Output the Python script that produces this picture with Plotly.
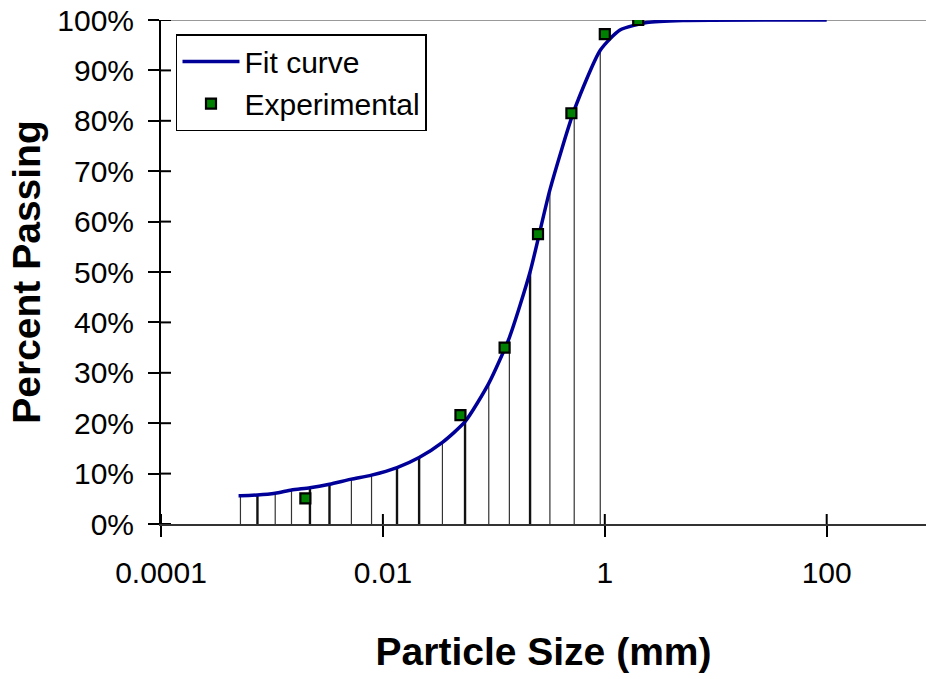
import plotly.graph_objects as go

# ---- data ----
fit_x = [5.0e-4, 5.2e-4, 7.4e-4, 1.07e-3, 1.5e-3, 2.2e-3, 3.3e-3, 5.2e-3, 7.9e-3,
         0.0134, 0.0212, 0.0344, 0.055, 0.090, 0.138, 0.212, 0.32, 0.53,
         0.91, 1.37, 2.39, 5.07, 100.0]
fit_y = [0.056, 0.056, 0.0575, 0.061, 0.0675, 0.072, 0.079, 0.089, 0.097,
         0.112, 0.132, 0.162, 0.203, 0.279, 0.37, 0.50, 0.663, 0.821,
         0.94, 0.98, 0.995, 0.999, 1.0]
drop_x = [5.2e-4, 7.4e-4, 1.07e-3, 1.5e-3, 2.2e-3, 3.3e-3, 5.2e-3, 7.9e-3,
          0.0134, 0.0212, 0.0344, 0.055, 0.090, 0.138, 0.212, 0.32, 0.53, 0.91]
drop_y = [0.056, 0.0575, 0.061, 0.0675, 0.072, 0.079, 0.089, 0.097,
          0.112, 0.132, 0.162, 0.203, 0.279, 0.37, 0.50, 0.663, 0.821, 0.94]
exp_x = [0.002, 0.05, 0.125, 0.25, 0.5, 1.0, 2.0]
exp_y = [0.051, 0.216, 0.35, 0.575, 0.815, 0.972, 1.0]
x_tickvals = [1e-4, 1e-2, 1, 100]
x_ticktext = ["0.0001", "0.01", "1", "100"]
y_tickvals = [0, 0.1, 0.2, 0.3, 0.4, 0.5, 0.6, 0.7, 0.8, 0.9, 1.0]

# styling: which drop lines are drawn heavier
bold_drops = {1, 4, 5, 8, 9, 11, 14}

FONT = "Arial, Liberation Sans, sans-serif"
XR = [-4, 2.895]
YR = [0, 1]
INNER_TICK_FRAC = 10 / 765  # ~10 px of the plot width

fig = go.Figure()

def drops(indices):
    xs, ys = [], []
    for i in indices:
        xs += [drop_x[i], drop_x[i], None]
        ys += [0, drop_y[i], None]
    return xs, ys

thin = [i for i in range(len(drop_x)) if i not in bold_drops]
bold = [i for i in range(len(drop_x)) if i in bold_drops]
tx, ty = drops(thin)
bx, by = drops(bold)
fig.add_trace(go.Scatter(x=tx, y=ty, mode="lines", line=dict(color="#333333", width=1.2),
                         showlegend=False, hoverinfo="skip"))
fig.add_trace(go.Scatter(x=bx, y=by, mode="lines", line=dict(color="#111111", width=2.4),
                         showlegend=False, hoverinfo="skip"))

fig.add_trace(go.Scatter(x=fit_x, y=fit_y, mode="lines", name="Fit curve",
                         line=dict(color="#000099", width=3.5, shape="spline", smoothing=0.6)))
fig.add_trace(go.Scatter(x=exp_x, y=exp_y, mode="markers", name="Experimental",
                         marker=dict(symbol="square", size=10, color="#008000",
                                     line=dict(color="black", width=2.2))))

# top border line and inner halves of the crossing tick marks
shapes = [dict(type="line", xref="paper", yref="y", x0=0, x1=1, y0=1, y1=1,
               line=dict(color="#999999", width=2), layer="below")]
for v in y_tickvals:
    shapes.append(dict(type="line", xref="x domain", yref="y",
                       x0=0, x1=INNER_TICK_FRAC, y0=v, y1=v,
                       line=dict(color="black", width=2)))
for v in x_tickvals:
    shapes.append(dict(type="line", xref="x", yref="y", ysizemode="pixel",
                       yanchor=YR[0], x0=v, x1=v, y0=0, y1=10,
                       line=dict(color="black", width=2)))

fig.update_layout(
    width=926, height=679,
    margin=dict(l=161, r=0, t=20, b=155),
    paper_bgcolor="white", plot_bgcolor="white",
    font=dict(family=FONT, size=30, color="black"),
    showlegend=True,
    legend=dict(x=0.0196, y=0.972, xanchor="left", yanchor="top",
                bordercolor="black", borderwidth=1.5, bgcolor="white",
                font=dict(family=FONT, size=30, color="black"),
                tracegroupgap=0, itemwidth=57),
    xaxis=dict(type="log", range=XR, tickvals=x_tickvals, ticktext=x_ticktext,
               ticks="outside", ticklen=11, tickwidth=2, tickcolor="black",
               showline=True, linecolor="#333333", linewidth=2,
               showgrid=False, zeroline=False, ticklabelstandoff=10,
               title=dict(text="<b>Particle Size (mm)</b>", standoff=50,
                          font=dict(family=FONT, size=39, color="black"))),
    yaxis=dict(range=YR, tickvals=y_tickvals, tickformat=".0%",
               ticks="outside", ticklen=11, tickwidth=2, tickcolor="black",
               showline=True, linecolor="black", linewidth=2,
               showgrid=False, zeroline=False, ticklabelstandoff=8,
               title=dict(text="<b>Percent Passing</b>", standoff=5,
                          font=dict(family=FONT, size=39, color="black"))),
    shapes=shapes,
)

fig.write_html("out.html")
